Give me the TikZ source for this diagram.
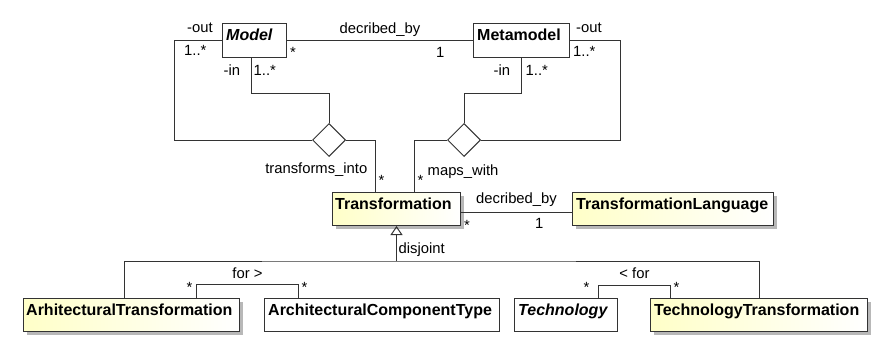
\documentclass[tikz,border=0pt]{standalone}
\usepackage{fontspec}
\setmainfont{Liberation Sans}
\usepackage{tikz}
\usetikzlibrary{arrows.meta, positioning, shapes.geometric, calc, shadows}
\definecolor{linegray}{HTML}{333333}
\definecolor{classyellow}{HTML}{FFFFC8}

\begin{document}
\begin{tikzpicture}[
    x=1pt, y=-1pt,
    classbox/.style={draw=linegray, line width=1pt, minimum height=33pt, inner sep=0pt, anchor=north west},
    yellowbox/.style={classbox, left color=classyellow, right color=white, drop shadow={shadow xshift=3pt, shadow yshift=-3pt, fill=black!28, opacity=1}},
    classname/.style={font=\fontsize{16}{19}\selectfont\bfseries, anchor=base west, inner sep=0pt},
    rolelabel/.style={font=\fontsize{14.8}{17}\selectfont, anchor=base west, inner sep=0pt},
    assoc/.style={draw=linegray, line width=1pt},
    aggregation/.style={draw=linegray, line width=1pt, fill=white, shape=diamond, minimum width=33pt, minimum height=33pt, inner sep=0pt}
]
    \useasboundingbox (0,0) rectangle (873,345);

    % Model class (abstract)
    \node[classbox, minimum width=64pt, minimum height=34pt] (Model) at (222,23) {};
    \node[classname, font=\fontsize{16}{19}\selectfont\bfseries\itshape] (ModelName) at ($(Model.north west) + (4,18)$) {Model};

    % Metamodel class
    \node[classbox, minimum width=96pt, minimum height=34pt] (Metamodel) at (473,23) {};
    \node[classname] (MetamodelName) at ($(Metamodel.north west) + (4,18)$) {Metamodel};

    % Transformation and its language
    \node[yellowbox, minimum width=128pt] (Trans) at (332,192) {};
    \node[classname] (TransName) at ($(Trans.north west) + (3,17)$) {Transformation};
    \node[yellowbox, minimum width=201pt] (TL) at (572,192) {};
    \node[classname] (TLName) at ($(TL.north west) + (4,17)$) {TransformationLanguage};

    % Bottom row
    \node[yellowbox, minimum width=216pt] (ArhTrans) at (23,298) {};
    \node[classname] (ArhTransName) at ($(ArhTrans.north west) + (3,17)$) {ArhitecturalTransformation};
    \node[classbox, minimum width=235pt] (ACT) at (264,298) {};
    \node[classname] (ACTName) at ($(ACT.north west) + (4,17)$) {ArchitecturalComponentType};
    \node[classbox, minimum width=103pt] (Tech) at (514,298) {};
    \node[classname, font=\fontsize{16}{19}\selectfont\bfseries\itshape] (TechName) at ($(Tech.north west) + (4,17)$) {Technology};
    \node[yellowbox, minimum width=217pt] (TechTrans) at (650,298) {};
    \node[classname] (TechTransName) at ($(TechTrans.north west) + (4,17)$) {TechnologyTransformation};

    % Aggregation diamonds
    \node[aggregation] (aggL) at (329,140) {};
    \node[aggregation] (aggR) at (464,140) {};

    % Model -- Metamodel
    \draw[assoc] (Model.east) -- (Metamodel.west);
    \node[rolelabel, anchor=base] (mmBy) at ($(Model.east)!0.5!(Metamodel.west) + (0,-7)$) {decribed\_by};
    \node[rolelabel] (mmStar) at ($(Model.east) + (3,17)$) {*};
    \node[rolelabel] (mmOne) at ($(Metamodel.west) + (-37,17)$) {1};

    % transforms_into
    \draw[assoc] (Model.west) -- ++(-48,0) |- (aggL.west);
    \draw[assoc] ($(Model.south) + (-3,0)$) -- ++(0,35) -| (aggL.north);
    \draw[assoc] (aggL.east) -| ($(Trans.north) + (-21,0)$);
    \node[rolelabel] (modOut) at ($(Model.west) + (-35,-8)$) {-out};
    \node[rolelabel] (modOutM) at ($(Model.west) + (-38,15)$) {1..*};
    \node[rolelabel] (modIn) at ($(Model.south) + (-31,18)$) {-in};
    \node[rolelabel] (modInM) at ($(Model.south) + (-1,18)$) {1..*};
    \node[rolelabel, anchor=base east] (tiLabel) at ($(Trans.north) + (-29,-19)$) {transforms\_into};
    \node[rolelabel] (tiStar) at ($(Trans.north) + (-18,-7)$) {*};

    % maps_with
    \draw[assoc] (Metamodel.east) -- ++(50,0) |- (aggR.east);
    \draw[assoc] (Metamodel.south) -- ++(0,35) -| (aggR.north);
    \draw[assoc] (aggR.west) -| ($(Trans.north) + (18,0)$);
    \node[rolelabel] (metaOut) at ($(Metamodel.east) + (6,-8)$) {-out};
    \node[rolelabel] (metaOutM) at ($(Metamodel.east) + (3,16)$) {1..*};
    \node[rolelabel] (metaIn) at ($(Metamodel.south) + (-28,18)$) {-in};
    \node[rolelabel] (metaInM) at ($(Metamodel.south) + (4,18)$) {1..*};
    \node[rolelabel] (mwLabel) at ($(Trans.north) + (31,-17)$) {maps\_with};
    \node[rolelabel] (mwStar) at ($(Trans.north) + (21,-7)$) {*};

    % Transformation -- TransformationLanguage
    \draw[assoc] ([yshift=-3pt]Trans.east) -- ([yshift=-3pt]TL.west);
    \node[rolelabel, anchor=base] (tlBy) at ($(Trans.east)!0.5!(TL.west) + (0,-6)$) {decribed\_by};
    \node[rolelabel] (tlStar) at ($(Trans.east) + (3,21.5)$) {*};
    \node[rolelabel] (tlOne) at ($(TL.west) + (-37,19.5)$) {1};

    % Generalization set
    \coordinate (gen) at ($(Trans.south) + (0,35)$);
    \draw[assoc, -{Triangle[open, length=9pt, width=12pt]}] (gen) -- (Trans.south);
    \draw[assoc] ($(ArhTrans.north) + (-7,0)$) |- (gen) -| (TechTrans.north);
    \node[rolelabel] (genLabel) at ($(Trans.south) + (2,27)$) {disjoint};

    % for >
    \coordinate (forA) at ($(ArhTrans.north) + (65,0)$);
    \coordinate (forB) at ($(ACT.north) + (-83.5,0)$);
    \draw[assoc] (forA) -- ++(0,-14) -| (forB);
    \node[rolelabel, anchor=base] (forLabel) at ($(forA)!0.5!(forB) + (0,-20)$) {for >};
    \node[rolelabel] (forStarA) at ($(forA) + (-10,-6)$) {*};
    \node[rolelabel] (forStarB) at ($(forB) + (3,-6)$) {*};

    % < for
    \coordinate (techA) at ($(Tech.north) + (32.5,0)$);
    \coordinate (techB) at ($(TechTrans.north) + (-88.5,0)$);
    \draw[assoc] (techA) -- ++(0,-13) -| (techB);
    \node[rolelabel, anchor=base] (techLabel) at ($(techA)!0.5!(techB) + (0,-20)$) {< for};
    \node[rolelabel] (techStarA) at ($(techA) + (-15,-6)$) {*};
    \node[rolelabel] (techStarB) at ($(techB) + (3,-6)$) {*};
\end{tikzpicture}
\end{document}
